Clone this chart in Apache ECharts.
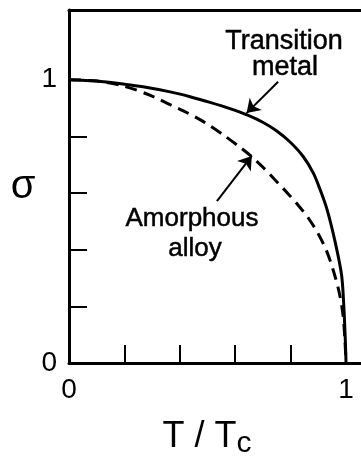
<!DOCTYPE html>
<html>
<head>
<meta charset="utf-8">
<script src="https://cdn.jsdelivr.net/npm/echarts@6/dist/echarts.min.js"></script>
<style>
  html, body { margin: 0; padding: 0; background: #fff; }
  #chart { width: 361px; height: 464px; }
</style>
</head>
<body>
<div id="chart"></div>
<script>
// reduced temperature T/Tc and magnetisation sigma
const tMetal = [0, 0.1, 0.2, 0.267, 0.365, 0.437, 0.509, 0.581, 0.647, 0.701, 0.750, 0.798, 0.846, 0.882, 0.906, 0.931, 0.960, 0.984, 0.992, 0.997, 1];
const sigmaMetal = [1, 0.995, 0.984, 0.975, 0.957, 0.94, 0.92, 0.898, 0.874, 0.849, 0.819, 0.78, 0.728, 0.67, 0.613, 0.543, 0.43, 0.31, 0.2, 0.09, 0];

const tAlloy = [0, 0.1, 0.2, 0.3, 0.365, 0.413, 0.485, 0.557, 0.617, 0.660, 0.701, 0.750, 0.792, 0.828, 0.865, 0.9, 0.93, 0.953, 0.975, 0.989, 0.996, 1];
const sigmaAlloy = [1, 0.995, 0.977, 0.942, 0.912, 0.89, 0.852, 0.805, 0.762, 0.728, 0.69, 0.64, 0.596, 0.556, 0.51, 0.455, 0.395, 0.33, 0.25, 0.17, 0.08, 0];

const tickValues = [0, 0.2, 0.4, 0.6, 0.8, 1];
const labelValues = [0, 1];

// arrows: [from, to] in data units
const metalArrow = [[0.755, 0.993], [0.641, 0.882]];
const alloyArrow = [[0.534, 0.571], [0.660, 0.731]];

const font = 'Liberation Sans';
const ink = '#000';

const chart = echarts.init(document.getElementById('chart'));

const pairs = (xs, ys) => xs.map((x, i) => [x, ys[i]]);
const arrow = (a) => [{ coord: a[0], symbol: 'none' }, { coord: a[1], symbol: 'arrow', symbolSize: 13 }];

const axisLine = { show: true, lineStyle: { color: ink, width: 3 } };
const ticks = { show: true, inside: true, length: 18, customValues: tickValues, lineStyle: { color: ink, width: 2 } };

// annotation text, slightly heavier like the scanned lettering
const note = (text, x, y, size) => ({
    type: 'text', x: x, y: y,
    style: {
        text: text, font: size + 'px ' + font, fill: ink,
        stroke: ink, lineWidth: 0.5,
        align: 'center', verticalAlign: 'middle'
    }
});

chart.setOption({
    animation: false,
    grid: { left: 69, right: 0, top: 10, bottom: 94 },
    xAxis: [
        {
            type: 'value',
            min: 0,
            max: 1.054,
            axisLine: axisLine,
            axisTick: ticks,
            splitLine: { show: false },
            axisLabel: {
                customValues: labelValues,
                margin: 13,
                color: ink,
                fontFamily: font,
                fontSize: 28
            },
            name: '{t|T / T}{s|c}',
            nameLocation: 'middle',
            nameGap: 52,
            nameTextStyle: {
                padding: [0, 16, 0, 0],
                rich: {
                    t: { fontFamily: font, fontSize: 36, color: ink },
                    s: { fontFamily: font, fontSize: 30, color: ink, padding: [14, 0, 0, 0] }
                }
            }
        },
        {
            type: 'value',
            position: 'top',
            min: 0,
            max: 1.054,
            axisLine: axisLine,
            axisTick: { show: false },
            axisLabel: { show: false },
            splitLine: { show: false }
        }
    ],
    yAxis: {
        type: 'value',
        min: 0,
        max: 1.246,
        axisLine: axisLine,
        axisTick: ticks,
        splitLine: { show: false },
        axisLabel: {
            customValues: labelValues,
            margin: 12,
            color: ink,
            fontFamily: font,
            fontSize: 28
        },
        name: 'σ',
        nameLocation: 'middle',
        nameRotate: 0,
        nameGap: 32,
        nameTextStyle: { fontFamily: font, fontSize: 40, color: ink }
    },
    series: [
        {
            name: 'Transition metal',
            type: 'line',
            data: pairs(tMetal, sigmaMetal),
            smooth: 0.3,
            showSymbol: false,
            lineStyle: { color: ink, width: 3 },
            markLine: {
                silent: true,
                symbol: ['none', 'arrow'],
                label: { show: false },
                lineStyle: { color: ink, width: 2, type: 'solid' },
                data: [arrow(metalArrow), arrow(alloyArrow)]
            }
        },
        {
            name: 'Amorphous alloy',
            type: 'line',
            data: pairs(tAlloy, sigmaAlloy),
            smooth: 0.3,
            showSymbol: false,
            lineStyle: { color: ink, width: 3, type: [12, 7] }
        }
    ],
    graphic: [
        note('Transition', 284, 42, 27),
        note('metal', 285, 68, 27),
        note('Amorphous', 192, 219, 26),
        note('alloy', 195, 249, 26)
    ]
});
</script>
</body>
</html>
